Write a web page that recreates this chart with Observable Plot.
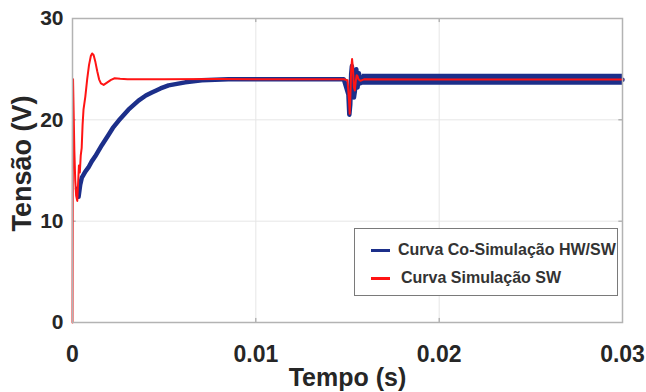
<!DOCTYPE html>
<html><head><meta charset="utf-8">
<script src="https://cdn.jsdelivr.net/npm/d3@7"></script>
<script src="https://cdn.jsdelivr.net/npm/@observablehq/plot@0.6"></script>
<style>
body{margin:0;background:#fff;}
#wrap{position:relative;width:646px;height:392px;overflow:hidden;font-family:"Liberation Sans",Arial,sans-serif;}
#legend{position:absolute;left:354px;top:228px;width:262px;height:66px;border:1px solid #7a7a7a;background:#fff;}
.li{position:absolute;height:3px;width:19px;left:16px;}
.lt{position:absolute;font-weight:bold;font-size:16px;color:#333;line-height:16px;}
</style></head><body><div id="wrap"><div id="legend"></div></div>
<script>
const xTicks = [0, 0.01, 0.02, 0.03];
const xTickLabels = ["0", "0.01", "0.02", "0.03"];
const yTicks = [0, 10, 20, 30];
const xLabel = "Tempo (s)";
const yLabel = "Tensão (V)";
const seriesNames = ["Curva Co-Simulação HW/SW", "Curva Simulação SW"];

// Simulação SW (red)
const redTime = [0, 0.00003, 0.00006, 0.0001, 0.00015, 0.0002, 0.00026, 0.0003, 0.00035, 0.0004, 0.00045, 0.0005, 0.00055, 0.0006, 0.0007, 0.0008, 0.0009, 0.001, 0.00107, 0.00115, 0.00125, 0.00135, 0.00145, 0.00155, 0.0017, 0.0019, 0.0021, 0.0023, 0.0026, 0.003, 0.005, 0.008, 0.012, 0.0148, 0.015, 0.01508, 0.01512, 0.01516, 0.0152, 0.01525, 0.0153, 0.01535, 0.0154, 0.01545, 0.0155, 0.01555, 0.0156, 0.0157, 0.0159, 0.02, 0.025, 0.03];
const redVolt = [0, 24, 21, 17, 14, 12.5, 12.0, 13.5, 15.5, 14.8, 16.5, 17.2, 19.5, 21.0, 22.3, 24.0, 25.4, 26.3, 26.55, 26.4, 25.7, 24.8, 24.0, 23.6, 23.45, 23.7, 23.95, 24.1, 24.05, 24.0, 24.0, 24.02, 24.0, 24.0, 23.9, 22.0, 20.6, 22.5, 25.0, 26.0, 25.0, 23.2, 22.9, 23.8, 24.4, 24.3, 24.0, 23.85, 24.0, 23.97, 23.97, 23.97];

// Co-Simulação HW/SW (blue)
const blueTime = [0.00025, 0.00033, 0.00042, 0.00051, 0.0007, 0.00087, 0.00105, 0.00124, 0.0016, 0.00196, 0.0022, 0.00251, 0.00305, 0.0036, 0.004, 0.00433, 0.0048, 0.00524, 0.00615, 0.00705, 0.0085, 0.012, 0.0148, 0.01505, 0.0151, 0.01515, 0.0152, 0.01524, 0.01528, 0.01535, 0.0154, 0.01548, 0.01555, 0.01562, 0.0157, 0.0158, 0.016, 0.02, 0.025, 0.03];
const blueVolt = [13.2, 12.4, 13.6, 14.3, 14.9, 15.3, 15.9, 16.4, 17.5, 18.5, 19.2, 19.9, 21.0, 21.9, 22.4, 22.7, 23.1, 23.4, 23.7, 23.9, 24.0, 24.0, 24.0, 22.5, 20.5, 21.5, 24.5, 25.3, 24.0, 22.2, 22.8, 25.0, 23.2, 24.6, 23.6, 24.2, 23.95, 23.95, 23.95, 23.95];

// ripple envelope of blue curve after the load step
const rippleTime = [0.0158, 0.03];
const rippleLow = [23.42, 23.42];
const rippleHigh = [24.5, 24.5];

const blueColor = "#1c2f8a";
const redColor = "#ff1414";

const red = redTime.map((t, i) => ({t, v: redVolt[i]}));
const blue = blueTime.map((t, i) => ({t, v: blueVolt[i]}));
const ripple = rippleTime.map((t, i) => ({t, lo: rippleLow[i], hi: rippleHigh[i]}));

const chart = Plot.plot({
  width: 646, height: 392,
  marginLeft: 72, marginRight: 24, marginTop: 18, marginBottom: 70,
  style: {fontFamily: "'Liberation Sans', Arial, sans-serif", background: "#fff"},
  x: {domain: [0, 0.03]},
  y: {domain: [0, 30]},
  marks: [
    Plot.ruleX(xTicks.slice(1, -1), {stroke: "#e6e6e6", strokeWidth: 1}),
    Plot.ruleY(yTicks.slice(1, -1), {stroke: "#e6e6e6", strokeWidth: 1}),
    Plot.ruleX(xTicks, {y1: 0, y2: 0.4, stroke: "#999"}),
    Plot.ruleX(xTicks, {y1: 29.6, y2: 30, stroke: "#999"}),
    Plot.ruleY(yTicks, {x1: 0, x2: 0.0002, stroke: "#999"}),
    Plot.ruleY(yTicks, {x1: 0.0298, x2: 0.03, stroke: "#999"}),
    Plot.areaY(ripple, {x: "t", y1: "lo", y2: "hi", fill: blueColor}),
    Plot.line(blue, {x: "t", y: "v", stroke: blueColor, strokeWidth: 4.5, strokeLinejoin: "round"}),
    Plot.line(red, {x: "t", y: "v", stroke: redColor, strokeWidth: 2}),
    Plot.frame({stroke: "#b3b3b3", strokeWidth: 1.5}),
    Plot.axisX(xTicks, {tickSize: 0, tickPadding: 23, tickFormat: (d, i) => xTickLabels[i], fontSize: 23, fontWeight: "bold", fill: "#262626", label: null}),
    Plot.axisY(yTicks, {tickSize: 0, tickPadding: 9, fontSize: 21, fontWeight: "bold", fill: "#262626", label: null}),
    Plot.text([xLabel], {frameAnchor: "bottom", dy: 55, lineAnchor: "middle", textAnchor: "middle", fontSize: 25, fontWeight: "bold", fill: "#262626"}),
    Plot.text([yLabel], {frameAnchor: "left", dx: -50, dy: -7, rotate: -90, textAnchor: "middle", lineAnchor: "middle", fontSize: 27, fontWeight: "bold", fill: "#262626"})
  ]
});
document.getElementById("wrap").prepend(chart);

const leg = document.getElementById("legend");
const colors = [blueColor, redColor];
const rows = [{line: 20, text: 43}, {line: 48, text: 46}];
seriesNames.forEach((name, i) => {
  const l = document.createElement("div");
  l.className = "li";
  l.style.top = rows[i].line + "px";
  l.style.background = colors[i];
  leg.appendChild(l);
  const t = document.createElement("div");
  t.className = "lt";
  t.style.top = (rows[i].line - 7) + "px";
  t.style.left = rows[i].text + "px";
  t.textContent = name;
  leg.appendChild(t);
});
</script></body></html>
